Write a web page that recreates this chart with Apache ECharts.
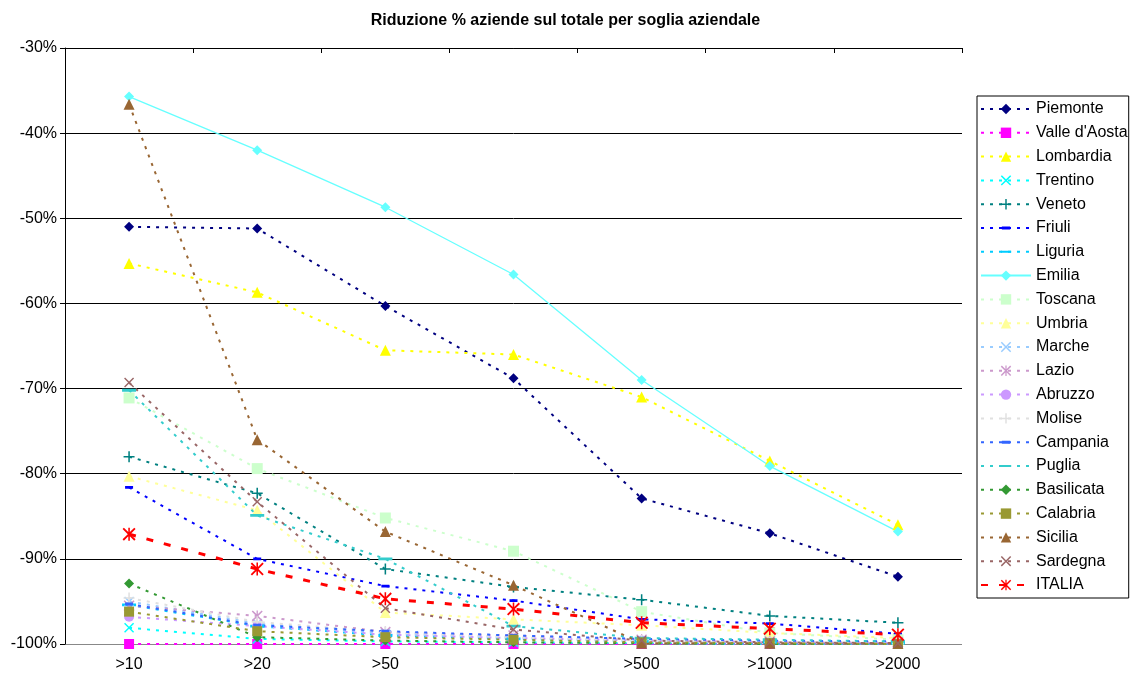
<!DOCTYPE html>
<html><head><meta charset="utf-8">
<script src="https://cdn.jsdelivr.net/npm/echarts@6/dist/echarts.min.js"></script>
<style>html,body{margin:0;padding:0;background:#fff}#c{width:1131px;height:680px}</style>
</head><body><div id="c"></div>
<script>
const categories = ['>10','>20','>50','>100','>500','>1000','>2000'];
const yTicks = [-100,-90,-80,-70,-60,-50,-40,-30];

const piemonte   = [-51.0,-51.2,-60.3,-68.8,-82.9,-87.0,-92.1];
const valle      = [-100,-100,-100,-100,-100,-100,-100];
const lombardia  = [-55.3,-58.7,-65.5,-66.0,-71.0,-78.5,-86.0];
const trentino   = [-98.1,-99.4,-99.7,-99.8,-99.9,-100,-100];
const veneto     = [-78.0,-82.3,-91.2,-93.3,-94.8,-96.7,-97.5];
const friuli     = [-81.6,-90.0,-93.2,-94.9,-97.1,-97.6,-98.8];
const liguria    = [-95.4,-97.9,-99.0,-99.4,-99.7,-99.8,-99.9];
const emilia     = [-35.7,-42.0,-48.7,-56.6,-69.0,-79.1,-86.8];
const toscana    = [-71.1,-79.4,-85.2,-89.1,-96.2,-98.7,-99.5];
const umbria     = [-80.3,-84.3,-96.3,-97.1,-97.8,-98.7,-99.3];
const marche     = [-95.0,-97.6,-98.8,-99.3,-99.7,-99.8,-99.9];
const lazio      = [-95.5,-96.7,-98.6,-99.0,-99.5,-99.7,-99.8];
const abruzzo    = [-96.8,-97.9,-98.9,-99.3,-99.6,-99.8,-99.9];
const molise     = [-94.6,-97.4,-98.6,-99.2,-99.6,-99.8,-99.9];
const campania   = [-95.3,-97.8,-98.5,-99.0,-99.4,-99.6,-99.7];
const puglia     = [-70.2,-84.9,-90.0,-97.9,-99.3,-99.5,-99.7];
const basilicata = [-92.9,-99.2,-99.6,-99.8,-99.9,-100,-100];
const calabria   = [-96.2,-98.5,-99.2,-99.5,-99.8,-99.9,-100];
const sicilia    = [-36.6,-76.0,-86.8,-93.1,-99.9,-99.9,-99.9];
const sardegna   = [-69.3,-83.3,-95.8,-98.3,-99.6,-99.8,-99.9];
const italia     = [-87.1,-91.2,-94.7,-95.9,-97.5,-98.2,-98.9];

const X = 'path://M1,0L5,4L9,0L10,1L6,5L10,9L9,10L5,6L1,10L0,9L4,5L0,1Z';
const PLUS = 'path://M4.3,0H5.7V4.3H10V5.7H5.7V10H4.3V5.7H0V4.3H4.3Z';
const STAR = 'path://M1,0L5,4L9,0L10,1L6,5L10,9L9,10L5,6L1,10L0,9L4,5L0,1ZM4.4,0H5.6V10H4.4Z';
const DASH = 'path://M0,0L0,0ZM10,10L10,10ZM1,3.6H9V6.4H1Z';
const LDASH = 'path://M0,0L0,0ZM14,14L14,14ZM0,5.6H14V8.4H0Z';

const dot = [3,6];
function s(name, data, color, symbol, size, opts) {
  opts = opts || {};
  return {
    name, type: 'line', data, xAxisIndex: 0,
    symbol, symbolSize: size, showSymbol: true,
    lineStyle: { color, width: opts.width || 2, type: opts.type || dot, cap: 'butt' },
    itemStyle: { color, borderWidth: 0 },
    emphasis: { disabled: true },
    animation: false
  };
}

const series = [
  s('Piemonte', piemonte, '#000080', 'diamond', 10),
  s("Valle d'Aosta", valle, '#FF00FF', 'rect', 10),
  s('Lombardia', lombardia, '#FFFF00', 'triangle', 11),
  s('Trentino', trentino, '#00FFFF', X, 10),
  s('Veneto', veneto, '#008080', PLUS, 11),
  s('Friuli', friuli, '#0000FF', DASH, 10),
  s('Liguria', liguria, '#00CCFF', LDASH, 14),
  s('Emilia', emilia, '#66FFFF', 'diamond', 10, {type:'solid', width:1.3}),
  s('Toscana', toscana, '#CCFFCC', 'rect', 11),
  s('Umbria', umbria, '#FFFF99', 'triangle', 11),
  s('Marche', marche, '#99CCFF', X, 10),
  s('Lazio', lazio, '#CC99CC', STAR, 11),
  s('Abruzzo', abruzzo, '#CC99FF', 'circle', 10),
  s('Molise', molise, '#E0E0E0', PLUS, 11),
  s('Campania', campania, '#3366FF', DASH, 10),
  s('Puglia', puglia, '#33CCCC', LDASH, 14),
  s('Basilicata', basilicata, '#339933', 'diamond', 10),
  s('Calabria', calabria, '#999933', 'rect', 10),
  s('Sicilia', sicilia, '#996633', 'triangle', 11),
  s('Sardegna', sardegna, '#996666', X, 10),
  s('ITALIA', italia, '#FF0000', STAR, 13, {type:[7,11], width:3})
];

const font = 'Liberation Sans, Arial, sans-serif';
const chart = echarts.init(document.getElementById('c'), null, {renderer:'canvas'});
chart.setOption({
  backgroundColor: '#fff',
  animation: false,
  title: {
    text: 'Riduzione % aziende sul totale per soglia aziendale',
    left: 'center', top: 8,
    textStyle: { fontFamily: font, fontSize: 16, fontWeight: 'bold', color: '#000' }
  },
  legend: {
    orient: 'vertical', left: 977, top: 96,
    padding: [5, 1, 5, 3],
    borderColor: '#000', borderWidth: 1,
    itemWidth: 50, itemHeight: 13, itemGap: 7.8,
    textStyle: { fontFamily: font, fontSize: 16, color: '#000' },
    data: series.map(x => x.name),
    selectedMode: false
  },
  grid: { left: 65, right: 169, top: 48, bottom: 36, containLabel: false },
  xAxis: [
    { type: 'category', data: categories, position: 'bottom', boundaryGap: true,
      axisLine: { show: false }, axisTick: { show: false },
      axisLabel: { fontFamily: font, fontSize: 16, color: '#000', margin: 13 } },
    { type: 'category', data: categories, position: 'top', boundaryGap: true,
      axisLine: { show: true, lineStyle: { color: '#000', width: 1 } },
      axisTick: { show: true, inside: true, length: 5, lineStyle: { color: '#000' } },
      axisLabel: { show: false } }
  ],
  yAxis: {
    type: 'value', min: yTicks[0], max: yTicks[yTicks.length-1], interval: 10,
    axisLine: { show: true, lineStyle: { color: '#000', width: 1 } },
    axisTick: { show: true, length: 5, lineStyle: { color: '#000' } },
    axisLabel: { fontFamily: font, fontSize: 16, color: '#000', margin: 8,
      formatter: v => v + '%' },
    splitLine: { show: true, lineStyle: { color: ['#888888','#000','#000','#000','#000','#000','#000','#000'], width: 1 } }
  },
  series
});
</script></body></html>
